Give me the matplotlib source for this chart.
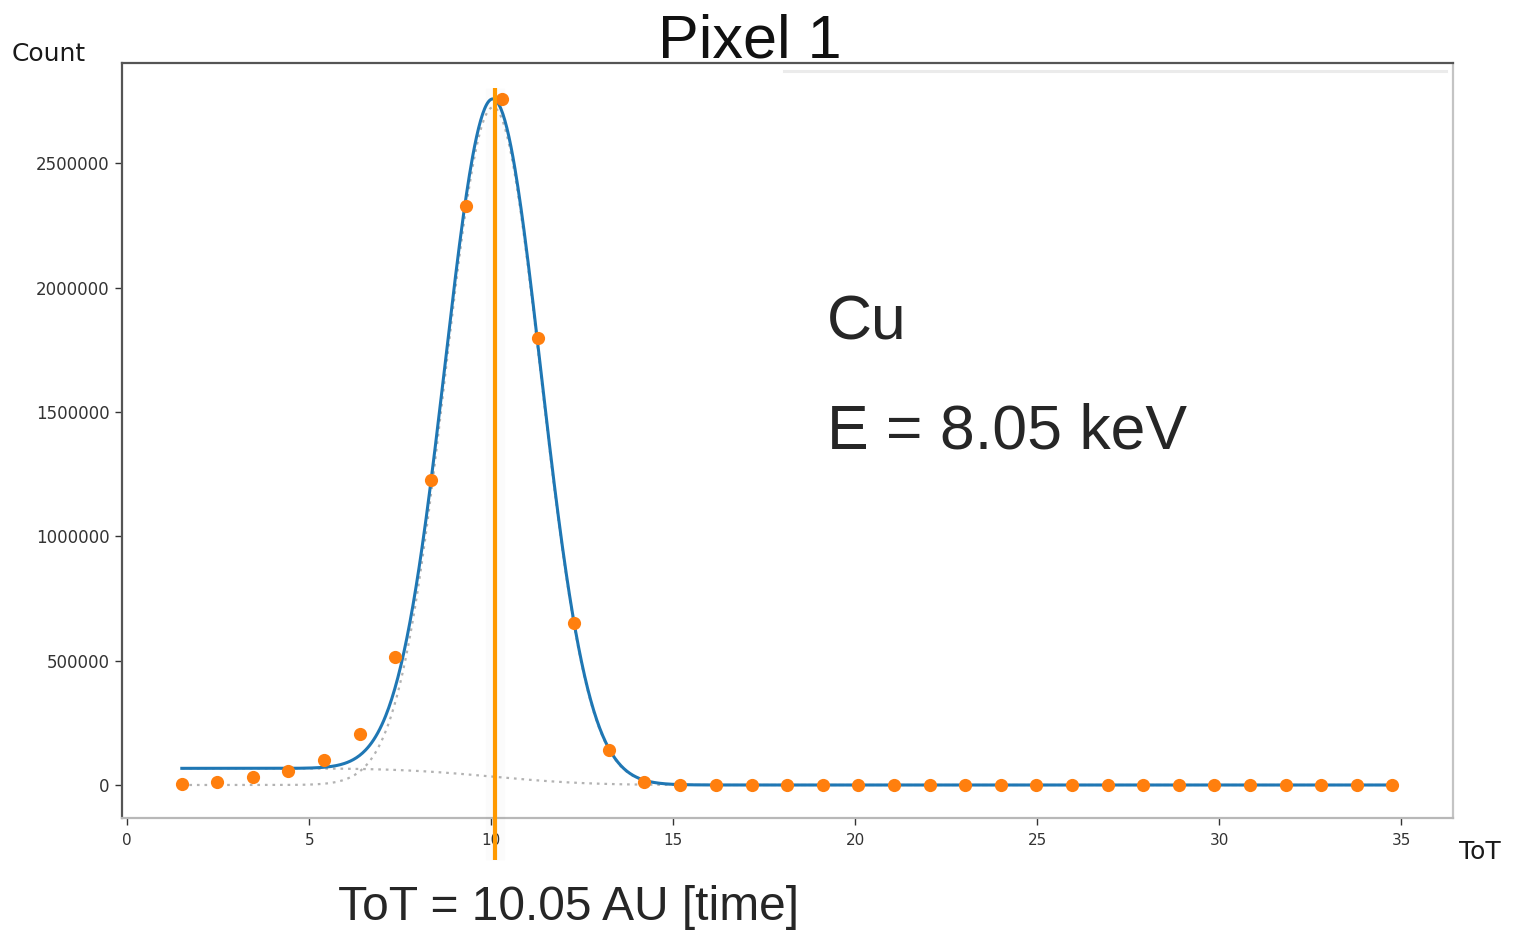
import math
import numpy as np
import matplotlib
matplotlib.use("Agg")
import matplotlib.pyplot as plt
import matplotlib.transforms as mtransforms

# ---- data ----
tot_bins = [1.50, 2.48, 3.46, 4.43, 5.41, 6.39, 7.37, 8.35, 9.32, 10.30,
            11.28, 12.26, 13.24, 14.21, 15.19, 16.17, 17.15, 18.13, 19.10, 20.08,
            21.06, 22.04, 23.02, 23.99, 24.97, 25.95, 26.93, 27.91, 28.88, 29.86,
            30.84, 31.82, 32.80, 33.77, 34.75]
counts = [4000, 13000, 31000, 56000, 100000, 204000, 513000, 1228000, 2330000, 2757000,
          1798000, 653000, 140000, 13000, 1500, 800, 500, 400, 300, 250,
          200, 200, 150, 150, 100, 100, 100, 100, 100, 100,
          100, 100, 100, 100, 100]

# fit parameters (Gaussian peak + step background)
fit_amp = 2725000
fit_mean = 10.05
fit_sigma = 1.31
bkg_height = 67000
bkg_width = 2.05

marker_x = 10.09
yticks = [0, 500000, 1000000, 1500000, 2000000, 2500000]
xticks = [0, 5, 10, 15, 20, 25, 30, 35]

# ---- figure ----
fig = plt.figure(figsize=(15.2, 9.3), dpi=100)
ax = fig.add_axes([122/1520, 1 - 818/930, (1453-122)/1520, (818-63)/930])

xf = np.linspace(tot_bins[0], tot_bins[-1], 1200)
gauss = fit_amp * np.exp(-(xf - fit_mean) ** 2 / (2 * fit_sigma ** 2))
erfc_v = np.vectorize(math.erfc)
bkg = bkg_height * 0.5 * erfc_v((xf - fit_mean) / (math.sqrt(2) * bkg_width))
total = gauss + bkg

ax.plot(xf, gauss, color="#b3b3b3", lw=1.6, ls=(0, (1.2, 2.2)), zorder=2)
ax.plot(xf, bkg, color="#b3b3b3", lw=1.6, ls=(0, (1.2, 2.2)), zorder=2)
ax.plot(xf, total, color="#1f77b4", lw=2.2, zorder=3)
ax.plot(tot_bins, counts, "o", color="#ff7f0e", ms=9.5, mec="none", zorder=4)

ax.set_xlim(-0.143, 36.42)
ax.set_ylim(-132700, 2903000)
ax.set_xticks(xticks)
ax.set_yticks(yticks)
ax.set_yticklabels([str(v) for v in yticks])
ax.tick_params(axis="x", labelsize=11, colors="#333333", length=5, width=1, pad=6)
ax.tick_params(axis="y", labelsize=12, colors="#333333", length=5, width=1, pad=4)
for lab in ax.get_xticklabels() + ax.get_yticklabels():
    lab.set_color("#333333")

ax.spines["left"].set_color("#555555")
ax.spines["top"].set_color("#555555")
ax.spines["right"].set_color("#c4c4c4")
ax.spines["bottom"].set_color("#b8b8b8")
for s in ax.spines.values():
    s.set_linewidth(1.6)

# vertical marker line (extends below the axes)
trans = mtransforms.blended_transform_factory(ax.transData, ax.transAxes)
ax.plot([marker_x, marker_x], [-0.056, 0.967], transform=trans, color="#000000",
        alpha=0.015, lw=14, clip_on=False, zorder=5, solid_capstyle="butt")
ax.plot([marker_x, marker_x], [-0.056, 0.967], transform=trans, color="#ff9900",
        lw=3.0, clip_on=False, zorder=6, solid_capstyle="butt")

# faint line near top of plot
ax.plot([0.497, 0.9945], [0.989, 0.989], transform=ax.transAxes, color="#ebebeb",
        lw=2.2, clip_on=False, zorder=1)

# texts
fig.text(12/1520, 1 - 61/930, "Count", fontsize=18, color="#1a1a1a",
         ha="left", va="baseline", family="DejaVu Sans")
fig.text(1459/1520, 1 - 859/930, "ToT", fontsize=18, color="#1a1a1a",
         ha="left", va="baseline", family="DejaVu Sans")
fig.text(658/1520, 1 - 57/930, "Pixel 1", fontsize=44, color="#111111",
         ha="left", va="baseline", family="Liberation Sans")
fig.text(827/1520, 1 - 340/930, "Cu", fontsize=45, color="#262626",
         ha="left", va="baseline", family="Liberation Sans")
fig.text(827/1520, 1 - 448/930, "E = 8.05 keV", fontsize=45, color="#262626",
         ha="left", va="baseline", family="Liberation Sans")
fig.text(338/1520, 1 - 920/930, "ToT = 10.05 AU [time]", fontsize=34.5, color="#262626",
         ha="left", va="baseline", family="Liberation Sans")

fig.savefig("out.png", dpi=100, facecolor="white")
